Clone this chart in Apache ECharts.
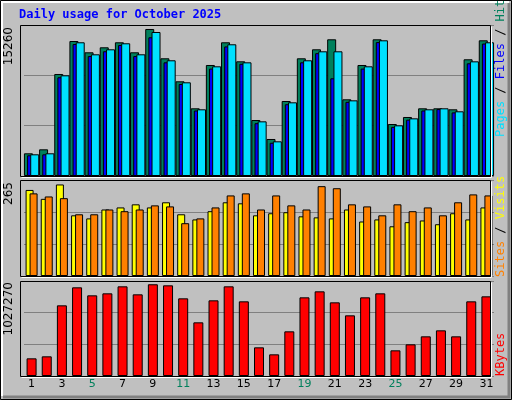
<!DOCTYPE html>
<html>
<head>
<meta charset="utf-8">
<script src="https://cdn.jsdelivr.net/npm/echarts@6/dist/echarts.min.js"></script>
<style>html,body{margin:0;padding:0;background:#c0c0c0}#panel{width:512px;height:400px}</style>
</head>
<body>
<div id="panel"></div>
<script>
var days = ['1','2','3','4','5','6','7','8','9','10','11','12','13','14','15','16','17','18','19','20','21','22','23','24','25','26','27','28','29','30','31'];
var weekends = ['4','5','11','12','18','19','25','26'];
var hits  = [2356,2770,10589,14014,12840,13360,13880,12840,15260,12218,9830,7027,11523,13880,11906,5813,3841,7786,12218,13152,14190,7962,11523,14190,5398,6125,7027,7027,6924,12115,14087];
var pages = [2150,2250,10250,13700,12450,12950,13600,12450,14400,11800,9550,6800,11150,13450,11650,5480,3450,7450,11800,12750,10142,7700,11150,13900,5100,5850,6800,6950,6600,11700,13750];
var files = [2252,2356,10451,13880,12633,13152,13776,12633,14949,12011,9727,6924,11385,13672,11800,5675,3600,7648,12011,12944,12944,7855,11385,14087,5260,5986,6924,7027,6716,11903,13880];
var sites  = [251,225,267,177,168,194,200,209,200,215,180,165,189,215,212,177,183,186,174,171,168,194,159,165,145,157,162,151,183,165,200];
var visits = [241,232,227,180,180,194,189,194,206,203,154,168,200,235,241,194,235,206,194,262,256,209,203,177,209,189,200,177,215,238,235];
var kbytes = [197900,220300,791500,993100,903500,925900,1004300,914700,1027270,1015500,869900,601100,847500,1004300,836300,321100,242700,500300,881100,948300,825100,679500,881100,925900,287500,354700,444300,511500,444300,836300,892300];
var maxLabels = ['15260','265','1027270'];

var chartDom = document.getElementById('panel');
var myChart = echarts.init(chartDom);

var font = 'DejaVu Sans Mono';
var grids = [
    {left: 24, width: 470, top: 25, height: 151},
    {left: 24, width: 470, top: 180, height: 96},
    {left: 24, width: 470, top: 281, height: 95}
];
var frames = [[20, 25, 470, 151], [20, 180, 470, 96], [20, 281, 470, 95]];

function xAx(i, show) {
    return {
        type: 'category', gridIndex: i, data: days, boundaryGap: true,
        axisLine: {show: false}, axisTick: {show: false},
        axisLabel: {
            show: show, margin: 3, fontFamily: 'DejaVu Sans', fontSize: 11,
            color: function (v) { return weekends.indexOf(v) >= 0 ? '#00805c' : '#000'; }
        }
    };
}
function yAx(i, max) {
    return {
        type: 'value', gridIndex: i, min: 0, max: max, interval: max / 3,
        axisLabel: {show: false}, axisLine: {show: false}, axisTick: {show: false},
        splitLine: {lineStyle: {color: '#808080', width: 1}}
    };
}
function bar(name, data, color, i, w, gap) {
    return {
        type: 'bar', name: name, data: data, xAxisIndex: i, yAxisIndex: i,
        barWidth: w, barGap: gap, animation: false,
        itemStyle: {color: color, borderColor: '#000', borderWidth: 1}
    };
}

var graphic = [
    {type: 'rect', shape: {x: 0.5, y: 0.5, width: 511, height: 399}, style: {fill: '#c0c0c0', stroke: '#000'}, z: -10},
    {type: 'polyline', shape: {points: [[2, 396], [2, 2], [509, 2]]}, style: {stroke: '#fff', lineWidth: 2, fill: null}, z: -9},
    {type: 'polyline', shape: {points: [[3, 397], [509, 397], [509, 3]]}, style: {stroke: '#808080', lineWidth: 3, fill: null}, z: -9},
    {type: 'text', x: 19, y: 9, style: {text: 'Daily usage for October 2025', fill: '#0000ff', font: 'bold 12px ' + font}}
];
frames.forEach(function (f) {
    graphic.push({type: 'rect', shape: {x: f[0] + 0.5, y: f[1] + 0.5, width: f[2], height: f[3]}, style: {fill: null, stroke: '#000', lineWidth: 1}, z: 100});
    graphic.push({type: 'polyline', shape: {points: [[f[0] + 1.5, f[1] + f[3] + 1.5], [f[0] + f[2] + 1.5, f[1] + f[3] + 1.5], [f[0] + f[2] + 1.5, f[1] + 1.5]]}, style: {stroke: '#fff', fill: null}, z: 100});
});
var leftY = [27, 182, 282];
maxLabels.forEach(function (t, i) {
    graphic.push({type: 'text', x: 9, y: leftY[i], rotation: Math.PI / 2,
        style: {text: t, fill: '#000', font: '12px DejaVu Sans', align: 'right', verticalAlign: 'middle'}});
});
function sideLabel(y, text, rich) {
    graphic.push({type: 'text', x: 501, y: y, rotation: Math.PI / 2,
        style: {text: text, font: '12px ' + font, align: 'left', verticalAlign: 'middle', rich: rich}});
}
sideLabel(137, '{p|Pages}{s| / }{f|Files}{s| / }{h|Hits}', {
    p: {fill: '#00e0ff', fontFamily: font, fontSize: 12}, f: {fill: '#0000ff', fontFamily: font, fontSize: 12},
    h: {fill: '#00805c', fontFamily: font, fontSize: 12}, s: {fill: '#000', fontFamily: font, fontSize: 12}
});
sideLabel(277, '{a|Sites}{s| / }{b|Visits}', {
    a: {fill: '#ff8000', fontFamily: font, fontSize: 12}, b: {fill: '#ffff00', fontFamily: font, fontSize: 12},
    s: {fill: '#000', fontFamily: font, fontSize: 12}
});
sideLabel(376, '{k|KBytes}', {k: {fill: '#ff0000', fontFamily: font, fontSize: 12}});

var option = {
    backgroundColor: '#c0c0c0',
    animation: false,
    grid: grids,
    xAxis: [xAx(0, false), xAx(1, false), xAx(2, true)],
    yAxis: [yAx(0, 15675), yAx(1, 280), yAx(2, 1064000)],
    graphic: graphic,
    series: [
        bar('Hits', hits, '#00805c', 0, 9, '-65%'),
        bar('Pages', pages, '#0000ff', 0, 9, '-65%'),
        bar('Files', files, '#00e0ff', 0, 9, '-65%'),
        bar('Sites', sites, '#ffff00', 1, 8, '-50%'),
        bar('Visits', visits, '#ff8000', 1, 8, '-50%'),
        bar('KBytes', kbytes, '#ff0000', 2, 10, '0%')
    ]
};
myChart.setOption(option);
</script>
</body>
</html>
